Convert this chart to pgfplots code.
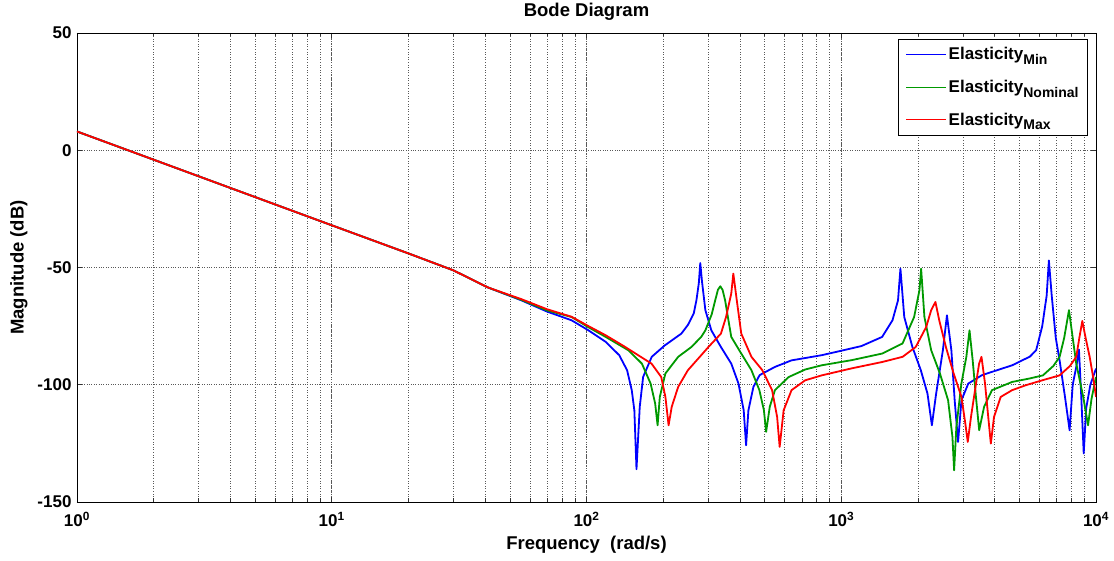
\documentclass[border=0pt]{standalone}
\usepackage{pgfplots}
\pgfplotsset{compat=1.18}
\usepackage{fontspec}
\setmainfont{Liberation Sans}
\definecolor{mblue}{rgb}{0,0,1}
\definecolor{mgreen}{rgb}{0,0.6,0}
\definecolor{mred}{rgb}{1,0,0}
\newcommand{\sub}[1]{\raisebox{-4.5pt}{\fontsize{14}{15}\selectfont #1}}
\pgfplotsset{
  legend image code/.code={\draw[#1, line width=1.1pt] (0pt,0pt) -- (40pt,0pt);},
}
\begin{document}
\begin{tikzpicture}
\begin{axis}[
  scale only axis,
  width=1019pt, height=469pt,
  xmode=log,
  xmin=1, xmax=10000,
  ymin=-150, ymax=50,
  xtick={1,10,100,1000,10000},
  xticklabels={10\textsuperscript{0},10\textsuperscript{1},10\textsuperscript{2},10\textsuperscript{3},10\textsuperscript{4}},
  ytick={-150,-100,-50,0,50},
  yticklabels={-150,-100,-50,0,50},
  tick align=inside,
  major tick length=5pt,
  minor tick length=3.5pt,
  xmajorgrids, xminorgrids, ymajorgrids,
  grid style={black!65, dotted, line width=0.6pt},
  minor grid style={black!65, dotted, line width=0.6pt},
  axis line style={black, line width=0.8pt},
  tick style={black!80, line width=0.6pt},
  ticklabel style={font=\bfseries\fontsize{17}{19}\selectfont},
  xticklabel style={anchor=base, yshift=-25pt},
  yticklabel style={anchor=east, xshift=-2pt},
  title={Bode Diagram},
  title style={font=\bfseries\fontsize{18.5}{21}\selectfont, at={(axis description cs:0.5,1)}, anchor=base, yshift=10pt},
  xlabel={Frequency\ \ (rad/s)},
  ylabel={Magnitude (dB)},
  label style={font=\bfseries\fontsize{18.5}{21}\selectfont},
  xlabel style={at={(axis description cs:0.5,0)}, anchor=base, yshift=-48pt},
  ylabel style={at={(axis description cs:-0.057,0.5)}, anchor=center},
  legend cell align=left,
  legend style={at={(axis description cs:0.992,0.987)}, anchor=north east,
    draw=black, line width=0.6pt, font=\bfseries\fontsize{17}{19}\selectfont,
    row sep=15pt, inner xsep=7pt, inner ysep=6pt},
  every axis plot/.append style={line width=1.8pt, line join=round},
]
\addplot[color=mblue] coordinates {
(1,8) (10,-32) (20,-44) (30,-51.2) (41,-58.5) (55.5,-64) (70,-68.8) (87.3,-72.5)
(101.8,-76.8) (118.9,-81.7) (134.4,-87.4) (144.3,-93.8) (150.5,-102.3) (154.1,-110.9)
(157.1,-136) (161.8,-109.4) (166.8,-96.7) (180.3,-88.1) (203,-83.2) (235.6,-78.2)
(250,-74.5) (263.6,-69.6) (270,-64) (275.9,-56.8) (279.6,-48.1) (284,-56) (292.8,-68.2)
(309,-76.8) (337,-83.9) (370,-91) (395,-99.5) (414,-110.9) (423,-125.8) (432,-110.9)
(452,-100.9) (478,-95.9) (549,-92.4) (638,-89.6) (838,-87.4) (1000,-85.5) (1200,-83.5)
(1447,-79.6) (1589,-72.5) (1670,-64) (1707,-50.5) (1767,-71.1) (1902,-83.9) (2052,-93.8)
(2180,-103.8) (2268,-117.3) (2357,-103.8) (2505,-85.3) (2599,-70.4) (2705,-85.3)
(2787,-106.6) (2874,-124.4) (2963,-106.6) (3152,-99.5) (3567,-95.9) (4686,-91.7)
(5500,-88) (5821,-85.3) (6150,-75) (6400,-62) (6531,-47) (6700,-62) (6950,-80)
(7194,-89.6) (7550,-105) (7876,-119.4) (8100,-100) (8364,-92.4) (8570,-85) (8750,-105)
(8947,-129.3) (9150,-110) (9500,-100) (10000,-93.1)
};
\addlegendentry{Elasticity\sub{Min}}
\addplot[color=mgreen] coordinates {
(1,8) (10,-32) (20,-44) (30,-51.2) (41,-58.5) (55.5,-63.8) (70,-68.3) (87.3,-71.1)
(101.8,-75.5) (118.9,-79.6) (146,-85.3) (165,-91) (178.5,-99.5) (186,-108) (190.1,-117.3)
(194,-105.2) (204,-95.2) (229,-88.1) (258,-83.9) (282,-79.6) (292.8,-76.8) (310,-70)
(320,-64) (328,-59.5) (335,-58) (342,-59.5) (350,-64) (360,-72) (370,-79.6) (405,-86.7)
(444,-93.8) (477,-102.3) (497,-110.9) (507,-120.1) (524,-109.4) (549,-102.3) (622,-96.7)
(722,-93.5) (838,-91.7) (1100,-89.5) (1447,-86.7) (1740,-82.4) (1932,-71.1) (2027,-59.7)
(2058,-50.5) (2120,-71.1) (2254,-85.3) (2439,-95.2) (2626,-106.6) (2731,-122.2)
(2773,-136.5) (2830,-118) (2961,-99.5) (3097,-88.1) (3187,-76.8) (3280,-89.6)
(3378,-105.2) (3479,-119.4) (3636,-109.4) (3905,-102.3) (4686,-98.8) (5500,-97.3)
(6187,-96) (6800,-92) (7194,-88.1) (7500,-80) (7832,-68.2) (8100,-80) (8364,-91)
(8900,-105) (9304,-117.3) (9600,-106) (10000,-96.7)
};
\addlegendentry{Elasticity\sub{Nominal}}
\addplot[color=mred] coordinates {
(1,8) (10,-32) (20,-44) (30,-51.2) (41,-58.5) (55.5,-63.5) (70,-67.8) (87.3,-71)
(101.8,-75) (118.9,-78.9) (140,-83.5) (159.5,-87.4) (180,-91) (196.5,-96.7) (204,-105.2)
(210,-117.3) (216,-109.4) (229,-100.9) (250,-93.8) (282,-87.4) (301,-83.9) (337,-78.2)
(353,-71.1) (370,-61.1) (377,-52.6) (389,-64) (405,-78.2) (444,-88.1) (490,-93.8)
(535,-102.3) (560,-113.7) (573,-126.5) (594,-110.9) (638,-102.3) (722,-98.1) (838,-96)
(1100,-93) (1447,-90.3) (1740,-88.1) (1960,-83.9) (2154,-75.4) (2254,-68.2) (2342,-64.7)
(2424,-72.5) (2574,-83.9) (2761,-95.2) (2963,-105.2) (3069,-116.6) (3137,-124.4)
(3230,-113.7) (3380,-99.5) (3476,-91) (3552,-88.1) (3667,-99.5) (3775,-113.7)
(3865,-125.1) (3978,-113.7) (4224,-105.2) (4686,-102.3) (5300,-100.2) (6200,-98)
(7194,-96) (7900,-92) (8364,-88.1) (8600,-80) (8834,-72.8) (9100,-80) (9441,-88.1)
(9750,-97) (10000,-105.2)
};
\addlegendentry{Elasticity\sub{Max}}
\end{axis}
\pgfresetboundingbox
\path[use as bounding box] (-77pt,-59pt) rectangle (1037pt,502pt);
\end{tikzpicture}
\end{document}
